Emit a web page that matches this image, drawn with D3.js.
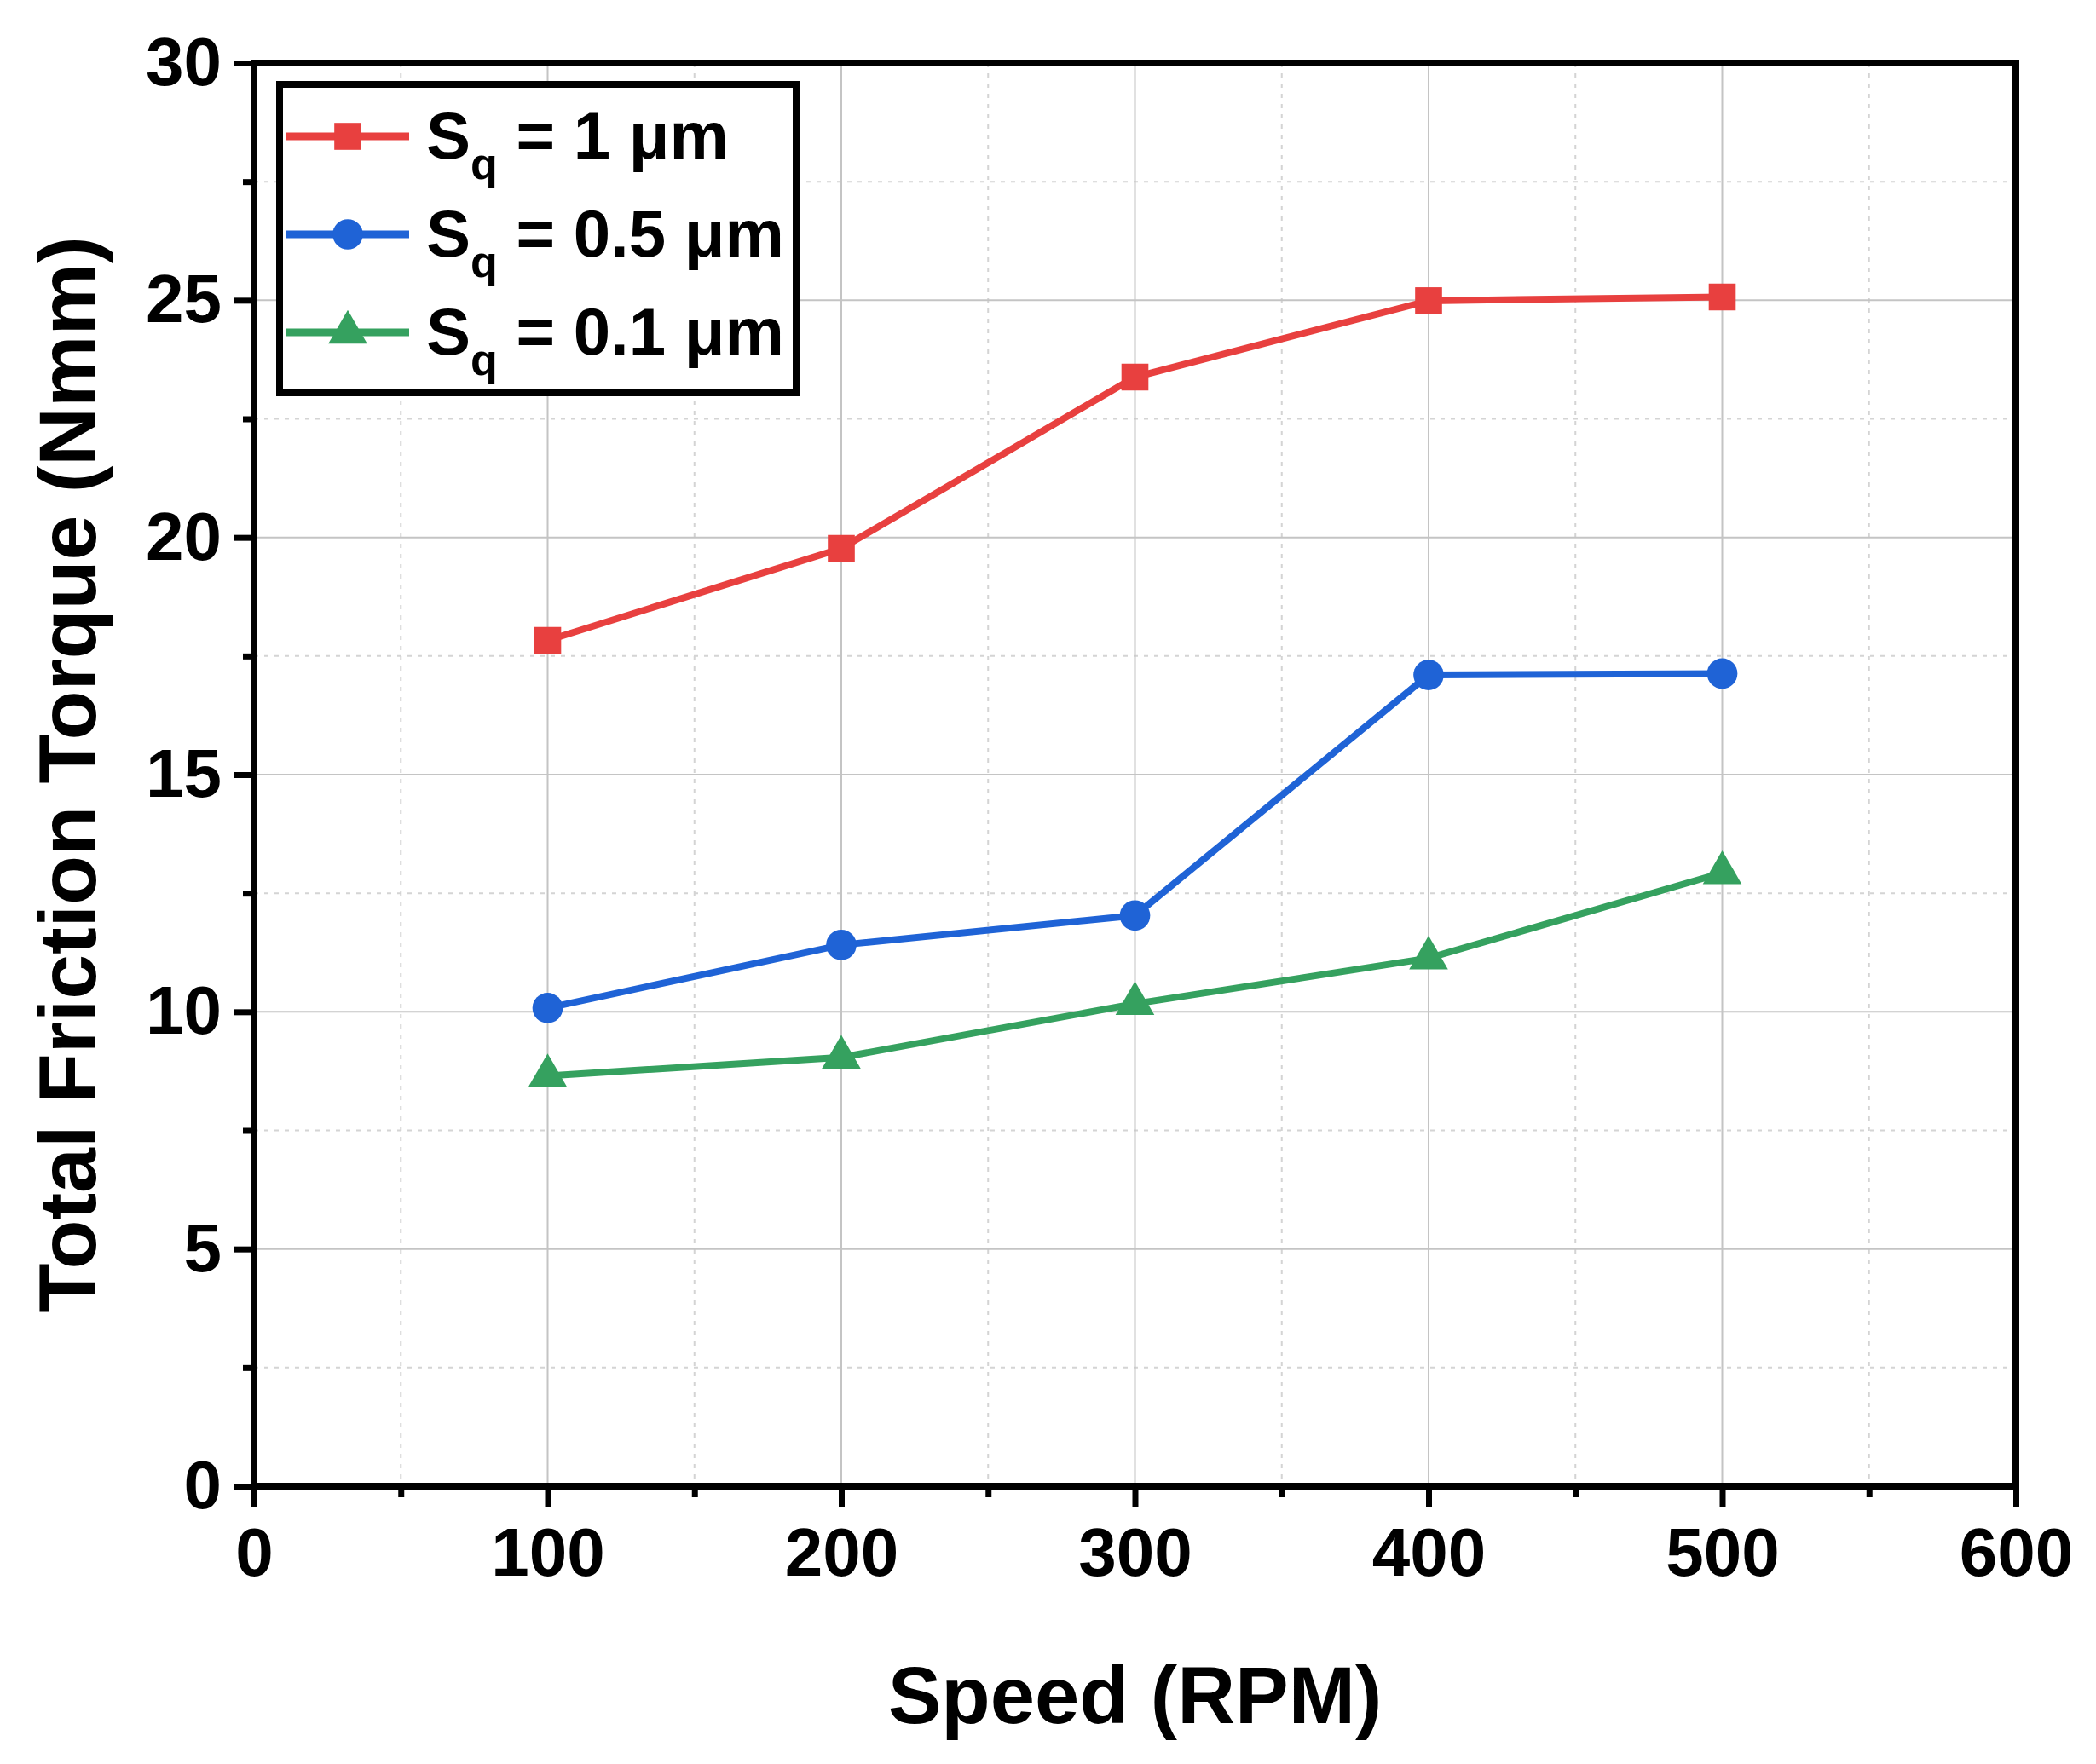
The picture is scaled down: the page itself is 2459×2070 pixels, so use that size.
<!DOCTYPE html>
<html><head><meta charset="utf-8">
<script src="https://cdn.jsdelivr.net/npm/d3@7"></script>
<style>body{margin:0;background:#fff}svg{display:block}</style>
</head><body>
<svg id="chart" width="2459" height="2070"></svg>
<script>
const speeds = [100, 200, 300, 400, 500];
const sq1 = [17.83, 19.77, 23.38, 24.99, 25.07];
const sq05 = [10.08, 11.41, 12.03, 17.1, 17.13];
const sq01 = [8.65, 9.04, 10.17, 11.13, 12.93];
const seriesNames = ["1", "0.5", "0.1"];
const seriesColors = ["#e8403f", "#1f63d6", "#35a15f"];
const xTicks = [0, 100, 200, 300, 400, 500, 600];
const yTicks = [0, 5, 10, 15, 20, 25, 30];

const font = "'Liberation Sans Narrow', 'Liberation Sans', Arial, sans-serif";
const svg = d3.select("#chart");
const L = 298, R = 2365, T = 74, B = 1744;
const x = d3.scaleLinear().domain([0, 600]).range([L, R]);
const y = d3.scaleLinear().domain([0, 30]).range([B, T]);

// grid
const g = svg.append("g");
d3.range(50, 600, 100).forEach(v => g.append("line").attr("x1", x(v)).attr("x2", x(v)).attr("y1", T).attr("y2", B)
    .attr("stroke", "#d4d4d4").attr("stroke-width", 2).attr("stroke-dasharray", "5,7"));
d3.range(2.5, 30, 5).forEach(v => g.append("line").attr("y1", y(v)).attr("y2", y(v)).attr("x1", L).attr("x2", R)
    .attr("stroke", "#d4d4d4").attr("stroke-width", 2).attr("stroke-dasharray", "5,7"));
xTicks.slice(1, -1).forEach(v => g.append("line").attr("x1", x(v)).attr("x2", x(v)).attr("y1", T).attr("y2", B)
    .attr("stroke", "#c4c4c4").attr("stroke-width", 2));
yTicks.slice(1, -1).forEach(v => g.append("line").attr("y1", y(v)).attr("y2", y(v)).attr("x1", L).attr("x2", R)
    .attr("stroke", "#c4c4c4").attr("stroke-width", 2));

// axes
const xAxis = d3.axisBottom(x).tickValues(xTicks).tickSize(24).tickPadding(24);
const xMinor = d3.axisBottom(x).tickValues(d3.range(50, 600, 100)).tickSize(13).tickFormat("");
const yAxis = d3.axisLeft(y).tickValues(yTicks).tickSize(24).tickPadding(14);
const yMinor = d3.axisLeft(y).tickValues(d3.range(2.5, 30, 5)).tickSize(13).tickFormat("");
[[xAxis, `translate(0,${B})`], [xMinor, `translate(0,${B})`], [yAxis, `translate(${L},0)`], [yMinor, `translate(${L},0)`]]
  .forEach(([ax, tr]) => {
    const a = svg.append("g").attr("transform", tr).call(ax);
    a.select(".domain").remove();
    a.selectAll("line").attr("stroke", "#000").attr("stroke-width", 7);
    a.selectAll("text").attr("font-family", font).attr("font-weight", "bold").attr("font-size", 80).attr("fill", "#000");
  });
svg.append("rect").attr("x", L).attr("y", T).attr("width", R - L).attr("height", B - T)
  .attr("fill", "none").attr("stroke", "#000").attr("stroke-width", 8);

// titles
svg.append("text").attr("x", (L + R) / 2).attr("y", 2022).attr("text-anchor", "middle")
  .attr("font-family", font).attr("font-weight", "bold").attr("font-size", 94).text("Speed (RPM)");
svg.append("text").attr("transform", `translate(112,${(T + B) / 2}) rotate(-90)`).attr("text-anchor", "middle")
  .attr("font-family", font).attr("font-weight", "bold").attr("font-size", 95).text("Total Friction Torque (Nmm)");

// series
const allSeries = [sq1, sq05, sq01];
const line = d3.line().x((d, i) => x(speeds[i])).y(d => y(d));
const symbols = [d3.symbolSquare, d3.symbolCircle, d3.symbolTriangle];
const symSize = [1000, 1000, 900];
allSeries.forEach((vals, s) => {
  svg.append("path").datum(vals).attr("d", line).attr("fill", "none")
    .attr("stroke", seriesColors[s]).attr("stroke-width", 8);
  svg.selectAll(null).data(vals).join("path")
    .attr("transform", (d, i) => `translate(${x(speeds[i])},${y(d)})`)
    .attr("d", d3.symbol(symbols[s], symSize[s])).attr("fill", seriesColors[s]);
});

// legend
const lg = svg.append("g");
lg.append("rect").attr("x", 328).attr("y", 99).attr("width", 606).attr("height", 362)
  .attr("fill", "#fff").attr("stroke", "#000").attr("stroke-width", 8);
seriesNames.forEach((n, s) => {
  const ly = 160 + s * 115;
  lg.append("line").attr("x1", 336).attr("x2", 480).attr("y1", ly).attr("y2", ly)
    .attr("stroke", seriesColors[s]).attr("stroke-width", 9);
  lg.append("path").attr("transform", `translate(408,${ly})`).attr("d", d3.symbol(symbols[s], symSize[s])).attr("fill", seriesColors[s]);
  const t = lg.append("text").attr("x", 500).attr("y", ly + 26).attr("font-family", font)
    .attr("font-weight", "bold").attr("font-size", 78);
  t.append("tspan").text("S");
  t.append("tspan").attr("dy", 24).attr("font-size", 52).text("q");
  t.append("tspan").attr("dy", -24).text(` = ${n} μm`);
});
</script>
</body></html>
